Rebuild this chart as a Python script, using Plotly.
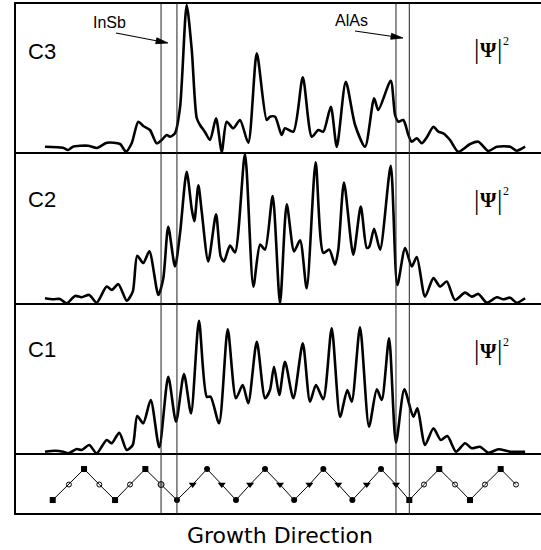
import math
import plotly.graph_objects as go

W, H = 541, 550

# ---------------- data (x in layer-index units, y = |Psi|^2 arb. units) ----------------
c3_x = [-0.49, 0.71, 1.05, 1.38, 2.38, 2.98, 3.65, 4.52, 4.92, 5.30, 5.74, 6.07, 6.52, 6.97,
        7.30, 7.64, 7.86, 8.19, 8.53, 8.97, 9.31, 9.64, 9.86, 10.19, 10.53, 10.93, 11.31,
        11.64, 12.08, 12.53, 13.08, 13.65, 14.31, 14.53, 14.87, 15.31, 15.53, 16.09, 16.72,
        17.32, 17.76, 18.09, 18.59, 18.99, 19.59, 20.21, 20.88, 21.48, 21.76, 22.59, 22.88,
        23.10, 23.43, 23.77, 23.99, 24.33, 24.66, 25.00, 25.44, 25.77, 26.10, 26.55, 27.10,
        27.89, 28.44, 29.11, 29.67, 30.56, 31.00, 31.56]
c3_y = [6.3, 5.3, 3.0, 6.3, 7.3, 5.0, 10.3, 9.0, 1.3, 9.7, 31.3, 27.0, 23.0, 9.7,
        13.0, 18.0, 16.3, 19.7, 46.0, 148.0, 103.0, 35.0, 28.0, 21.0, 13.0, 34.7, 1.3,
        31.3, 24.7, 33.0, 10.3, 99.7, 33.0, 36.3, 36.3, 18.0, 24.7, 21.3, 75.7,
        16.3, 23.0, 21.3, 46.3, 6.3, 71.3, 28.0, 6.3, 54.7, 43.0, 72.3, 38.0,
        31.3, 33.0, 18.0, 11.3, 14.7, 9.7, 15.7, 26.3, 21.3, 19.7, 13.0, 1.3,
        9.0, 11.3, 2.0, 6.3, 6.3, 2.3, 6.3]

c2_x = [-0.49, 0.07, 0.51, 0.96, 1.52, 1.96, 2.47, 2.96, 3.63, 3.97, 4.41, 4.97, 5.37, 5.67,
        6.07, 6.48, 7.08, 7.41, 7.74, 8.19, 8.53, 8.97, 9.31, 9.48, 9.75, 9.97, 10.41, 10.93,
        11.24, 11.46, 11.86, 12.20, 12.86, 13.42, 13.87, 14.20, 14.71, 15.20, 15.65, 16.14,
        16.54, 16.98, 17.58, 18.09, 18.49, 18.87, 19.09, 19.47, 20.09, 20.59, 20.99, 21.16,
        21.48, 21.88, 22.59, 23.03, 23.55, 23.99, 24.33, 24.88, 25.44, 25.88, 26.33, 26.88,
        27.55, 28.00, 28.44, 29.00, 29.67, 30.11, 30.56, 31.00, 31.56]
c2_y = [5.7, 4.7, 5.0, 0.7, 8.0, 6.7, 9.0, 1.3, 17.3, 14.0, 19.7, 3.3, 12.3, 48.0,
        40.7, 52.3, 9.0, 25.7, 76.7, 37.3, 70.7, 131.3, 94.0, 82.3, 118.0, 92.3, 42.3, 89.0,
        47.3, 42.3, 58.0, 51.3, 149.0, 17.3, 59.0, 54.0, 107.3, 0.7, 99.0, 52.3,
        63.3, 15.7, 140.7, 50.7, 54.0, 39.0, 54.0, 120.7, 49.0, 96.7, 55.7, 57.0,
        74.7, 54.0, 137.3, 19.0, 55.7, 37.3, 46.7, 7.3, 25.7, 17.3, 22.3, 4.0,
        11.3, 7.3, 10.0, 1.3, 6.7, 4.7, 6.3, 1.3, 5.7]

c1_x = [-0.49, 0.18, 0.73, 1.07, 1.63, 1.96, 2.47, 2.96, 3.63, 3.97, 4.47, 4.97, 5.37, 5.67,
        6.07, 6.57, 7.14, 7.74, 8.26, 8.79, 9.26, 9.79, 10.31, 10.57, 11.13, 11.71, 12.26,
        12.71, 13.08, 13.65, 14.20, 14.53, 14.80, 15.15, 15.53, 16.09, 16.72, 17.20, 17.60,
        18.09, 18.65, 19.21, 19.69, 19.99, 20.54, 21.14, 21.66, 21.99, 22.48, 22.94, 23.50,
        24.10, 24.37, 24.88, 25.44, 25.93, 26.37, 26.95, 27.55, 28.00, 28.55, 29.11, 29.78,
        30.56, 31.56]
c1_y = [2.3, 3.3, 2.3, 0.7, 5.0, 4.0, 9.0, 0.7, 14.0, 10.7, 21.3, 4.0, 9.0, 38.0,
        30.7, 54.0, 6.7, 77.3, 32.3, 80.0, 40.7, 133.3, 57.3, 57.3, 30.7, 124.7, 55.7,
        69.0, 50.7, 112.3, 55.7, 64.0, 87.3, 59.0, 92.3, 55.7, 110.7, 52.3, 69.0,
        54.7, 125.7, 37.3, 64.0, 52.3, 126.7, 27.3, 64.7, 54.0, 115.7, 11.3, 64.7,
        37.3, 45.7, 9.0, 25.7, 14.0, 18.0, 2.3, 10.7, 5.7, 7.3, 1.3, 4.7,
        2.3, 2.3]

# atomic layer sequence along the growth direction (positions as drawn)
layer_pos = [0.03, 1.11, 2.12, 3.14, 4.19, 5.19, 6.21, 7.26, 8.32, 9.37, 10.33, 11.31,
             12.26, 13.20, 14.20, 15.20, 16.14, 17.16, 18.09, 19.09, 20.03, 20.99, 21.94,
             22.94, 23.83, 24.81, 25.83, 26.88, 27.88, 28.88, 29.93, 30.95]
layer_level = [0, 1, 2, 1, 0, 1, 2, 1, 0, 1, 2, 1, 0, 1, 2, 1,
               0, 1, 2, 1, 0, 1, 2, 1, 0, 1, 2, 1, 0, 1, 2, 1]
layer_kind = ["sq", "oc", "sq", "oc", "sq", "oc", "sq", "hc",
              "fc", "tr", "fc", "tr", "fc", "tr", "fc", "tr",
              "fc", "tr", "fc", "tr", "fc", "tr", "fc", "tr",
              "sq", "oc", "sq", "oc", "sq", "oc", "sq", "oc"]
interface_layers = [7, 8, 23, 24]
panel_labels = ["C3", "C2", "C1"]

# ---------------- figure ----------------
def py(p):
    return 1 - p / H

def px(p):
    return p / W

fig = go.Figure()

curves = [(c3_x, c3_y, "x", "y"), (c2_x, c2_y, "x2", "y2"), (c1_x, c1_y, "x3", "y3")]
for cx, cy, xa, ya in curves:
    fig.add_trace(go.Scatter(x=cx, y=cy, mode="lines", xaxis=xa, yaxis=ya,
                             line=dict(color="black", width=2.6, shape="spline", smoothing=0.7),
                             hoverinfo="skip", showlegend=False))

fig.add_trace(go.Scatter(x=layer_pos, y=layer_level, mode="lines", xaxis="x4", yaxis="y4",
                         line=dict(color="black", width=1), showlegend=False, hoverinfo="skip"))

styles = {
    "sq": dict(symbol="square", size=6, color="black", line=dict(color="black", width=0)),
    "oc": dict(symbol="circle-open", size=5, color="black", line=dict(color="black", width=1)),
    "hc": dict(symbol="circle", size=6, color="#aaaaaa", line=dict(color="black", width=1)),
    "fc": dict(symbol="circle", size=6, color="black", line=dict(color="black", width=0)),
    "tr": dict(symbol="triangle-down", size=7, color="black", line=dict(color="black", width=0)),
}
for kind, st in styles.items():
    xs = [p for p, k in zip(layer_pos, layer_kind) if k == kind]
    ys = [l for l, k in zip(layer_level, layer_kind) if k == kind]
    fig.add_trace(go.Scatter(x=xs, y=ys, mode="markers", xaxis="x4", yaxis="y4",
                             marker=st, showlegend=False, hoverinfo="skip"))

xr = [-3.49, 32.62]
ax_common = dict(visible=False, showgrid=False, zeroline=False)
fig.update_layout(
    width=W, height=H, margin=dict(l=0, r=0, t=0, b=0),
    paper_bgcolor="white", plot_bgcolor="rgba(0,0,0,0)",
    xaxis=dict(domain=[0, 1], range=xr, anchor="y", **ax_common),
    xaxis2=dict(domain=[0, 1], range=xr, anchor="y2", **ax_common),
    xaxis3=dict(domain=[0, 1], range=xr, anchor="y3", **ax_common),
    xaxis4=dict(domain=[0, 1], range=xr, anchor="y4", **ax_common),
    yaxis=dict(domain=[py(153), py(3)], range=[0, 150], anchor="x", **ax_common),
    yaxis2=dict(domain=[py(304), py(153)], range=[0, 150], anchor="x2", **ax_common),
    yaxis3=dict(domain=[py(454), py(304)], range=[0, 150], anchor="x3", **ax_common),
    yaxis4=dict(domain=[py(514), py(454)], range=[-0.9, 2.97], anchor="x4", **ax_common),
)

shapes = []
for yy in [3, 153, 304, 454, 514]:
    shapes.append(dict(type="line", xref="paper", yref="paper", x0=px(14), x1=1,
                       y0=py(yy), y1=py(yy), line=dict(color="black", width=2)))
shapes.append(dict(type="line", xref="paper", yref="paper", x0=px(15), x1=px(15),
                   y0=py(514), y1=py(3), line=dict(color="black", width=2)))
for li in interface_layers:
    xi = layer_pos[li]
    shapes.append(dict(type="line", xref="x", yref="paper", x0=xi, x1=xi,
                       y0=py(514), y1=py(3), line=dict(color="#222222", width=1)))


def arrow(x0, y0, x1, y1, head=12, half=3):
    dx, dy = x1 - x0, y1 - y0
    n = math.hypot(dx, dy)
    ux, uy = dx / n, dy / n
    bx, by = x1 - head * ux, y1 - head * uy
    pxp, pyp = -uy * half, ux * half
    out = [dict(type="line", xref="paper", yref="paper", x0=px(x0), y0=py(y0),
                x1=px(bx), y1=py(by), line=dict(color="black", width=1.2))]
    path = (f"M {px(x1)} {py(y1)} L {px(bx + pxp)} {py(by + pyp)} "
            f"L {px(bx - pxp)} {py(by - pyp)} Z")
    out.append(dict(type="path", xref="paper", yref="paper", path=path,
                    fillcolor="black", line=dict(color="black", width=0.8)))
    return out


shapes += arrow(116, 33, 168, 43)
shapes += arrow(355, 31, 403, 38)
fig.update_layout(shapes=shapes)


def txt(s, x, y, family, size, weight="normal"):
    return dict(text=s, x=px(x), y=py(y), xref="paper", yref="paper", showarrow=False,
                xanchor="center", yanchor="middle",
                font=dict(family=family, size=size, color="black", weight=weight))


SERIF = "Liberation Serif, Times New Roman"
SANS = "Liberation Sans, Arial"
ann = []
for lab, yc, yp in zip(panel_labels, [51, 199, 349], [49.5, 199.5, 350]):
    ann.append(txt(lab, 42, yc, SANS, 22))
    ann.append(txt("|", 476.5, yp, SERIF, 27))
    ann.append(txt("Ψ", 488.5, yp + 1, SERIF, 21, "bold"))
    ann.append(txt("|", 499.5, yp, SERIF, 27))
    ann.append(txt("2", 506, yp - 8, SERIF, 12))
ann.append(txt("InSb", 109, 22, SANS, 16))
ann.append(txt("AlAs", 351, 20, SANS, 16))
ann.append(txt("Growth Direction", 280, 535, "DejaVu Sans", 22))
fig.update_layout(annotations=ann)

fig.write_html("out.html")
